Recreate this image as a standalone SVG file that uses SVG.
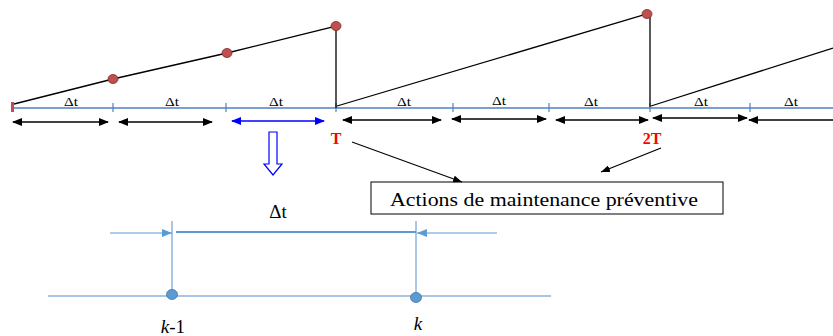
<svg xmlns="http://www.w3.org/2000/svg" width="833" height="336" viewBox="0 0 833 336">
<defs>
<marker id="ab" markerWidth="10" markerHeight="8" refX="9" refY="4" orient="auto-start-reverse" markerUnits="userSpaceOnUse"><path d="M0,0 L10,4 L0,8 Z" fill="#000"/></marker>
<marker id="abl" markerWidth="10" markerHeight="8" refX="9" refY="4" orient="auto-start-reverse" markerUnits="userSpaceOnUse"><path d="M0,0 L10,4 L0,8 Z" fill="#0000ff"/></marker>
<marker id="al" markerWidth="9" markerHeight="7" refX="9" refY="3.5" orient="auto" markerUnits="userSpaceOnUse"><path d="M0,0 L9,3.5 L0,7 Z" fill="#000"/></marker>
<marker id="alb" markerWidth="10" markerHeight="8" refX="10" refY="4" orient="auto" markerUnits="userSpaceOnUse"><path d="M0,0 L10,4 L0,8 Z" fill="#5b9bd5"/></marker>
</defs>
<style>
.tl{stroke:#4f81bd;stroke-width:1.5;fill:none}
.tk{stroke:#4f81bd;stroke-width:1.2}
.saw{stroke:#000;stroke-width:1.3;fill:none}
.pt{fill:#c0504d;stroke:#7f2a28;stroke-width:0.8}
.dt{font-family:'Liberation Serif','Times New Roman',serif;font-size:12px;text-anchor:middle;fill:#000}
.da{stroke:#000;stroke-width:1.5;marker-start:url(#ab);marker-end:url(#ab)}
.red{font-family:'Liberation Serif','Times New Roman',serif;font-size:16px;font-weight:bold;fill:#ff0000;text-anchor:middle}
.lb{stroke:#8db3e2;stroke-width:1.5}
.bt{font-family:'Liberation Serif','Times New Roman',serif;font-size:19px;fill:#000;text-anchor:middle}
</style>
<g id="timeline">
<line class="tl" x1="12" y1="108" x2="833" y2="108"/>
<line class="tk" x1="113" y1="103" x2="113" y2="112"/>
<line class="tk" x1="226" y1="103" x2="226" y2="112"/>
<line class="tk" x1="336" y1="103" x2="336" y2="112"/>
<line class="tk" x1="453" y1="103" x2="453" y2="112"/>
<line class="tk" x1="549" y1="103" x2="549" y2="112"/>
<line class="tk" x1="650" y1="103" x2="650" y2="112"/>
<line class="tk" x1="750" y1="103" x2="750" y2="112"/>
<rect x="11" y="102" width="3" height="10" fill="#c0504d"/>
</g>
<g id="sawtooth">
<polyline class="saw" points="14,104 113,79 227,53 336,26 336,108"/>
<polyline class="saw" points="337,106 647,14 650,14 650,107"/>
<line class="saw" x1="651" y1="106" x2="833" y2="48"/>
<ellipse class="pt" cx="113" cy="79" rx="5" ry="4.5"/>
<ellipse class="pt" cx="227" cy="53" rx="5" ry="4.5"/>
<ellipse class="pt" cx="336" cy="26" rx="5" ry="4.5"/>
<ellipse class="pt" cx="647" cy="14" rx="5" ry="4.5"/>
</g>
<g id="dt-labels">
<text class="dt" x="71" y="106" textLength="14" lengthAdjust="spacingAndGlyphs">Δt</text>
<text class="dt" x="172" y="106" textLength="14" lengthAdjust="spacingAndGlyphs">Δt</text>
<text class="dt" x="276" y="106" textLength="14" lengthAdjust="spacingAndGlyphs">Δt</text>
<text class="dt" x="404" y="106" textLength="14" lengthAdjust="spacingAndGlyphs">Δt</text>
<text class="dt" x="499" y="105" textLength="14" lengthAdjust="spacingAndGlyphs">Δt</text>
<text class="dt" x="591" y="106" textLength="14" lengthAdjust="spacingAndGlyphs">Δt</text>
<text class="dt" x="701" y="106" textLength="14" lengthAdjust="spacingAndGlyphs">Δt</text>
<text class="dt" x="791" y="106" textLength="14" lengthAdjust="spacingAndGlyphs">Δt</text>
</g>
<g id="intervals">
<line class="da" x1="13" y1="122" x2="108" y2="122"/>
<line class="da" x1="119" y1="122" x2="212" y2="122"/>
<line x1="232" y1="121" x2="324" y2="121" stroke="#0000ff" stroke-width="1.5" marker-start="url(#abl)" marker-end="url(#abl)"/>
<line class="da" x1="343" y1="120" x2="441" y2="120"/>
<line class="da" x1="452" y1="119" x2="546" y2="119"/>
<line class="da" x1="556" y1="120" x2="648" y2="120"/>
<line class="da" x1="653" y1="118" x2="747" y2="118"/>
<line class="da" x1="749" y1="120" x2="845" y2="120"/>
</g>
<g id="T"><text class="red" x="336" y="144">T</text></g>
<g id="T2"><text class="red" x="652" y="144">2T</text></g>
<g id="down-arrow">
<path d="M269,132 H277 V164 H282 L273,175 L264,164 H269 Z" fill="#fff" stroke="#0000ff" stroke-width="1.2"/>
</g>
<g id="action-box">
<rect x="371" y="182" width="352" height="32" fill="#fff" stroke="#000" stroke-width="1"/>
<text class="bt" x="544" y="206" font-size="21" textLength="308" lengthAdjust="spacingAndGlyphs">Actions de maintenance préventive</text>
</g>
<g id="connectors">
<line x1="352" y1="142" x2="462" y2="182" stroke="#000" stroke-width="1.2" marker-end="url(#al)"/>
<line x1="661" y1="148" x2="601" y2="172" stroke="#000" stroke-width="1.2" marker-end="url(#al)"/>
</g>
<g id="detail">
<text class="bt" x="278" y="218">Δt</text>
<line class="lb" x1="172" y1="221" x2="172" y2="295"/>
<line class="lb" x1="416" y1="221" x2="416" y2="298"/>
<line x1="110" y1="233" x2="172" y2="233" stroke="#5b9bd5" stroke-width="1.2" marker-end="url(#alb)"/>
<line x1="176" y1="232" x2="416" y2="232" stroke="#5b9bd5" stroke-width="2"/>
<line x1="497" y1="233" x2="417" y2="233" stroke="#5b9bd5" stroke-width="1.2" marker-end="url(#alb)"/>
<line class="lb" x1="48" y1="296" x2="551" y2="296"/>
<ellipse cx="172" cy="294.5" rx="5.5" ry="5" fill="#5b9bd5" stroke="#41719c" stroke-width="0.8"/>
<ellipse cx="416" cy="297.5" rx="5.5" ry="5" fill="#5b9bd5" stroke="#41719c" stroke-width="0.8"/>
<text class="bt" x="173" y="333"><tspan font-style="italic">k</tspan>-1</text>
<text class="bt" x="418" y="330" font-style="italic">k</text>
</g>
</svg>
